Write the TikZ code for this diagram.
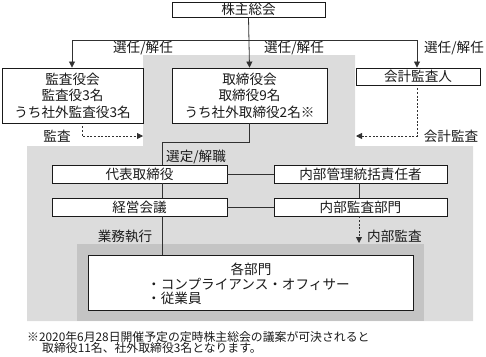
\documentclass[tikz,border=0pt]{standalone}
\usepackage{fontspec}
\setmainfont{Noto Sans CJK JP}
\usetikzlibrary{arrows.meta}
\definecolor{lightbg}{HTML}{DCDCDC}
\definecolor{darkbg}{HTML}{C4C4C4}
\definecolor{ink}{HTML}{1A1A1A}
\begin{document}
\begin{tikzpicture}[x=1pt,y=-1pt,
  box/.style={draw=ink,line width=0.9pt,fill=white,inner sep=0pt,align=center,
    font=\fontsize{13.6}{16.5}\selectfont,text=ink},
  lbl/.style={inner sep=0pt,font=\fontsize{13.6}{16}\selectfont,text=ink},
  conn/.style={draw=ink!90,line width=0.8pt},
  tip/.style={-{Triangle[length=6pt,width=6pt]}},
  dsh/.style={dash pattern=on 2pt off 1.6pt}]
\useasboundingbox (0,0) rectangle (486,356);
% backgrounds
\fill[lightbg] (143,55) -- (355,55) -- (355,146) -- (473,146) -- (473,321) -- (27,321) -- (27,146) -- (143,146) -- cycle;
\fill[darkbg] (77,244) rectangle (424,321);
% boxes
\node[box,minimum width=153pt,minimum height=15pt] (kabu) at (248.5,9.5) {株主総会};
\node[box,minimum width=141pt,minimum height=55pt] (kansa) at (72.5,95.5) {監査役会\\監査役3名\\うち社外監査役3名};
\node[box,minimum width=155pt,minimum height=55pt] (tori) at (249.5,95.5) {取締役会\\取締役9名\\うち社外取締役2名※};
\node[box,minimum width=124pt,minimum height=17pt] (kaikei) at (418,76.5) {会計監査人};
\node[box,minimum width=175pt,minimum height=18pt] (daihyo) at (139.5,174) {代表取締役};
\node[box,minimum width=173pt,minimum height=18pt] (naibu) at (360.5,174) {内部管理統括責任者};
\node[box,minimum width=175pt,minimum height=18pt] (keiei) at (139.5,207) {経営会議};
\node[box,minimum width=173pt,minimum height=18pt] (naikan) at (360.5,207) {内部監査部門};
\node[box,minimum width=325pt,minimum height=55pt] (kakubu) at (250.5,282.5) {};
\node[lbl] (kakubut) at (251,269) {各部門};
\node[lbl,anchor=west] (comp) at (147,284) {・コンプライアンス・オフィサー};
\node[lbl,anchor=west] (emp) at (147,298) {・従業員};
% helper coordinates
\coordinate (hy) at (0,40);
\coordinate (vl) at (72,0);
\coordinate (vr) at (417,0);
\coordinate (vk) at (162,0);
\coordinate (vn) at (359,0);
\coordinate (bend) at (0,142);
\coordinate (auy) at (0,136);
\coordinate (va) at (82,0);
\coordinate (aud) at (143,136);
\coordinate (aur) at (356,136);
\coordinate (inl) at (359,243);
% connectors
\draw[conn,tip] (kabu.south) -- (tori.north);
\draw[conn] (kabu.south |- hy) -- (vl |- hy);
\draw[conn] (kabu.south |- hy) -- (vr |- hy);
\draw[conn,tip] (vl |- hy) -- (kansa.north -| vl);
\draw[conn,tip] (vr |- hy) -- (kaikei.north -| vr);
\draw[conn] (tori.south) -- (tori.south |- bend) -- (vk |- bend) -- (daihyo.north -| vk);
\draw[conn] (daihyo.south -| vk) -- (keiei.north -| vk);
\draw[conn] (keiei.south -| vk) -- (kakubu.north -| vk);
\draw[conn] (daihyo.east) -- (naibu.west);
\draw[conn] (keiei.east) -- (naikan.west);
\draw[conn] (naibu.south -| vn) -- (naikan.north -| vn);
\draw[conn,dsh,tip] ([yshift=-3pt]kansa.south -| va) -- (va |- auy) -- (aud);
\draw[conn,dsh,tip] ([yshift=-3pt]kaikei.south -| vr) -- (vr |- auy) -- (aur);
\draw[conn,dsh,tip] (naikan.south -| vn) -- (inl);
% labels
\node[lbl] (l1) at (143,48) {選任/解任};
\node[lbl] (l2) at (294,48) {選任/解任};
\node[lbl] (l3) at (454,48) {選任/解任};
\node[lbl] (l4) at (57,136) {監査};
\node[lbl] (l5) at (451,136) {会計監査};
\node[lbl,anchor=west] (l6) at (166,157) {選定/解職};
\node[lbl] (l7) at (125,236) {業務執行};
\node[lbl,anchor=west] (l8) at (367,236) {内部監査};
\node[lbl,anchor=west,font=\fontsize{11.85}{13}\selectfont] (f1) at (27,337) {※2020年6月28日開催予定の定時株主総会の議案が可決されると};
\node[lbl,anchor=west,font=\fontsize{11.85}{13}\selectfont] (f2) at (42,348) {取締役11名、社外取締役3名となります。};
\end{tikzpicture}
\end{document}
